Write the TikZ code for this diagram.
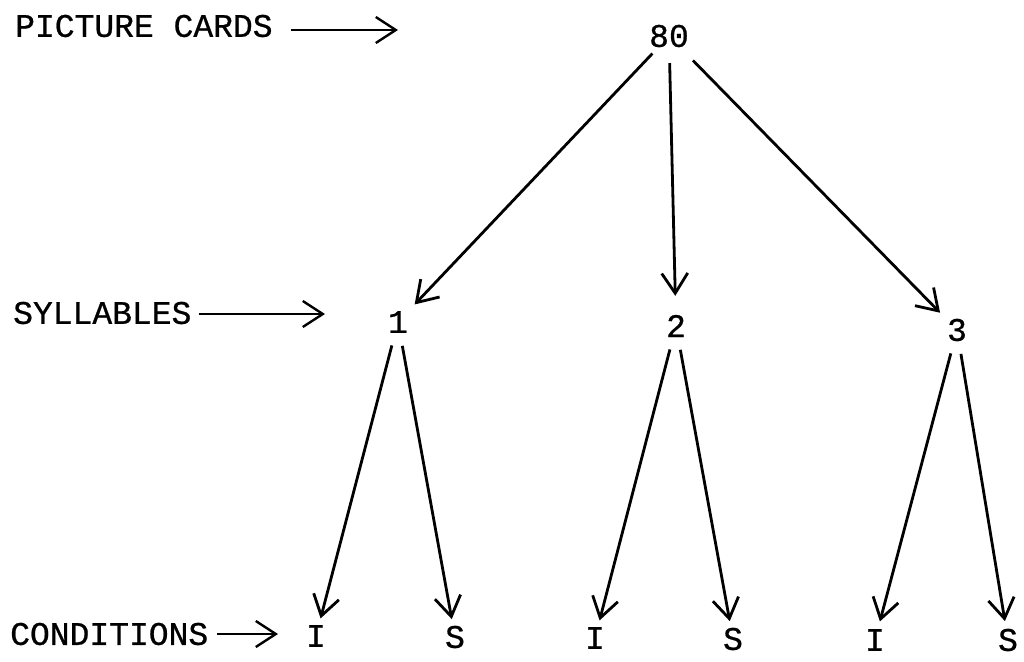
\documentclass[tikz,border=0pt]{standalone}
\usepackage{fontspec}
\setmainfont{Liberation Mono}
\newfontfamily\twfont{Liberation Mono}[FakeBold=0.7]
\usetikzlibrary{arrows.meta}
\begin{document}
\begin{tikzpicture}[x=1pt,y=-1pt,
  txt/.style={font=\fontsize{33}{36}\twfont},
  lab/.style={txt, inner sep=0pt, anchor=west},
  tn/.style={txt, circle, minimum size=48pt, inner sep=0pt},
  bn/.style={txt, circle, minimum size=36pt, inner sep=0pt},
  edge/.style={line width=2.8pt, -{Straight Barb[length=20pt,width=26pt]}},
  ptr/.style={line width=2.4pt, -{Straight Barb[length=20pt,width=26pt]}}]
\useasboundingbox (0,0) rectangle (1024,661);

% level labels
\node[lab] (pc) at (15,26) {PICTURE CARDS};
\node[lab] (syl) at (13,313) {SYLLABLES};
\node[lab] (cond) at (10,634) {CONDITIONS};
\coordinate (pce) at (398,30);
\coordinate (syle) at (325,314);
\coordinate (conde) at (278,634);
\draw[ptr] ([shift={(18,4)}]pc.east) -- (pce);
\draw[ptr] ([shift={(7,1)}]syl.east) -- (syle);
\draw[ptr] ([shift={(9,0)}]cond.east) -- (conde);

% tree nodes
\node[tn] (n80) at (669,36) {80};
\node[tn] (s1) at (398,322) {1};
\node[tn] (s2) at (676,326) {2};
\node[tn] (s3) at (957,330) {3};
\node[bn] (i1) at (316,636) {I};
\node[bn] (t1) at (455,637) {S};
\node[bn] (i2) at (595,638) {I};
\node[bn] (t2) at (733,639) {S};
\node[bn] (i3) at (875,640) {I};
\node[bn] (t3) at (1008,640) {S};

% edges
\draw[edge] (n80) -- (s1);
\draw[edge, shorten <=3pt, shorten >=6pt] (n80) -- (s2);
\draw[edge, shorten <=10pt] (n80) -- (s3);
\draw[edge] (s1) -- (i1);
\draw[edge] (s1) -- (t1);
\draw[edge] (s2) -- (i2);
\draw[edge] (s2) -- (t2);
\draw[edge, shorten >=1pt] (s3) -- (i3);
\draw[edge, shorten >=1pt] (s3) -- (t3);
\end{tikzpicture}
\end{document}
